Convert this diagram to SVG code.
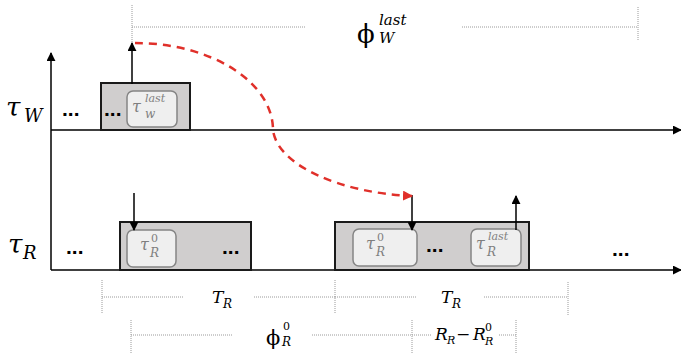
<svg xmlns="http://www.w3.org/2000/svg" width="681" height="354" viewBox="0 0 681 354">
<style>
.box{fill:#d0cece;stroke:#1a1a1a;stroke-width:2}
.inner{fill:#efefef;stroke:#858585;stroke-width:1.5}
.ax{stroke:#000;stroke-width:1.5;fill:none}
.arr{stroke:#000;stroke-width:1.5;fill:none}
.dot{stroke:#9a9a9a;stroke-width:1;stroke-dasharray:1 1;fill:none}
.m{font-family:"DejaVu Serif","Liberation Serif",serif;font-style:italic;fill:#000}
.g{fill:#7f7f7f}
.up{font-family:"DejaVu Serif","Liberation Serif",serif;fill:#000}
.n{font-style:normal}
.dots{font-family:"Liberation Sans",Arial,sans-serif;font-weight:bold;font-size:21px;fill:#000}
</style>
<defs>
<marker id="ah" viewBox="0 0 10 10" refX="9" refY="5" markerWidth="9" markerHeight="9" markerUnits="userSpaceOnUse" orient="auto"><path d="M0,0 L10,5 L0,10 z" fill="#000"/></marker>
<marker id="ahr" viewBox="0 0 10 10" refX="9" refY="5" markerWidth="10" markerHeight="10" markerUnits="userSpaceOnUse" orient="auto"><path d="M0,0 L10,5 L0,10 z" fill="#e0302a"/></marker>
</defs>

<g id="axes">
<line class="ax" x1="51" y1="270" x2="51" y2="53" marker-end="url(#ah)"/>
<line class="ax" x1="51" y1="130" x2="681" y2="130" marker-end="url(#ah)"/>
<line class="ax" x1="51" y1="270" x2="681" y2="270" marker-end="url(#ah)"/>
</g>

<g id="label-tauW">
<text class="m" x="6" y="116" font-size="26">τ</text>
<text class="m" x="24" y="122" font-size="18">W</text>
</g>
<g id="label-tauR">
<text class="m" x="8" y="253" font-size="26">τ</text>
<text class="m" x="23" y="259" font-size="18">R</text>
</g>

<g id="W-box">
<rect class="box" x="101" y="83" width="89" height="47"/>
<text class="dots" x="104" y="116">...</text>
<rect class="inner" x="127" y="91" width="50" height="36" rx="6"/>
<text class="m g" x="132" y="112" font-size="16">τ</text>
<text class="m g" x="145" y="102" font-size="11">last</text>
<text class="m g" x="145" y="118" font-size="12">w</text>
</g>
<text class="dots" x="62" y="116">...</text>

<g id="R-box1">
<rect class="box" x="120" y="222" width="131" height="48"/>
<rect class="inner" x="127" y="230" width="49" height="37" rx="6"/>
<text class="m g" x="140" y="250" font-size="16">τ</text>
<text class="m g n" x="151" y="242" font-size="11">0</text>
<text class="m g" x="150" y="257" font-size="12">R</text>
<text class="dots" x="222" y="254">...</text>
</g>
<text class="dots" x="66" y="254">...</text>

<g id="R-box2">
<rect class="box" x="335" y="222" width="194" height="48"/>
<rect class="inner" x="353" y="229" width="64" height="37" rx="6"/>
<text class="m g" x="366" y="249" font-size="16">τ</text>
<text class="m g n" x="377" y="241" font-size="11">0</text>
<text class="m g" x="376" y="256" font-size="12">R</text>
<text class="dots" x="426" y="252">...</text>
<rect class="inner" x="471" y="229" width="50" height="37" rx="6"/>
<text class="m g" x="476" y="249" font-size="16">τ</text>
<text class="m g" x="488" y="240" font-size="11">last</text>
<text class="m g" x="487" y="256" font-size="12">R</text>
</g>
<text class="dots" x="612" y="256">...</text>

<g id="connectors">
<line class="arr" x1="132" y1="84" x2="132" y2="43" marker-end="url(#ah)"/>
<line class="arr" x1="134" y1="193" x2="134" y2="230" marker-end="url(#ah)"/>
<line class="arr" x1="412" y1="195" x2="412" y2="230" marker-end="url(#ah)"/>
<line class="arr" x1="516" y1="230" x2="516" y2="196" marker-end="url(#ah)"/>
<path d="M135,43 A138,87 0 0 1 273,130 C277,165 340,193 412,196" fill="none" stroke="#e0302a" stroke-width="2.5" stroke-dasharray="8 6" marker-end="url(#ahr)"/>
</g>

<g id="dim-phiW">
<line class="dot" x1="132" y1="5" x2="132" y2="42"/>
<line class="dot" x1="132" y1="27" x2="305" y2="27"/>
<line class="dot" x1="462" y1="27" x2="638" y2="27"/>
<line class="dot" x1="638" y1="7" x2="638" y2="41"/>
<text class="up" x="357" y="43" font-size="26">ϕ</text>
<text class="m" x="379" y="25" font-size="15">last</text>
<text class="m" x="379" y="43" font-size="15">W</text>
</g>

<g id="dim-TR1">
<line class="dot" x1="102" y1="280" x2="102" y2="313"/>
<line class="dot" x1="102" y1="297" x2="184" y2="297"/>
<line class="dot" x1="254" y1="297" x2="335" y2="297"/>
<line class="dot" x1="335" y1="280" x2="335" y2="313"/>
<text class="m" x="212" y="303" font-size="17">T</text>
<text class="m" x="223" y="308" font-size="12">R</text>
</g>
<g id="dim-TR2">
<line class="dot" x1="335" y1="297" x2="417" y2="297"/>
<line class="dot" x1="484" y1="297" x2="568" y2="297"/>
<line class="dot" x1="568" y1="282" x2="568" y2="315"/>
<text class="m" x="441" y="303" font-size="17">T</text>
<text class="m" x="452" y="308" font-size="12">R</text>
</g>
<g id="dim-phiR">
<line class="dot" x1="131" y1="320" x2="131" y2="354"/>
<line class="dot" x1="131" y1="335" x2="232" y2="335"/>
<line class="dot" x1="312" y1="335" x2="432" y2="335"/>
<line class="dot" x1="412" y1="320" x2="412" y2="354"/>
<text class="up" x="266" y="345" font-size="21">ϕ</text>
<text class="up" x="283" y="330" font-size="11">0</text>
<text class="m" x="282" y="346" font-size="12">R</text>
</g>
<g id="dim-RR">
<line class="dot" x1="499" y1="335" x2="516" y2="335"/>
<line class="dot" x1="516" y1="320" x2="516" y2="354"/>
<text class="m" x="435" y="340" font-size="17">R</text>
<text class="m" x="447" y="344" font-size="11">R</text>
<text class="up" x="456" y="340" font-size="17">−</text>
<text class="m" x="473" y="340" font-size="17">R</text>
<text class="up" x="485" y="331" font-size="11">0</text>
<text class="m" x="485" y="345" font-size="11">R</text>
</g>
</svg>
